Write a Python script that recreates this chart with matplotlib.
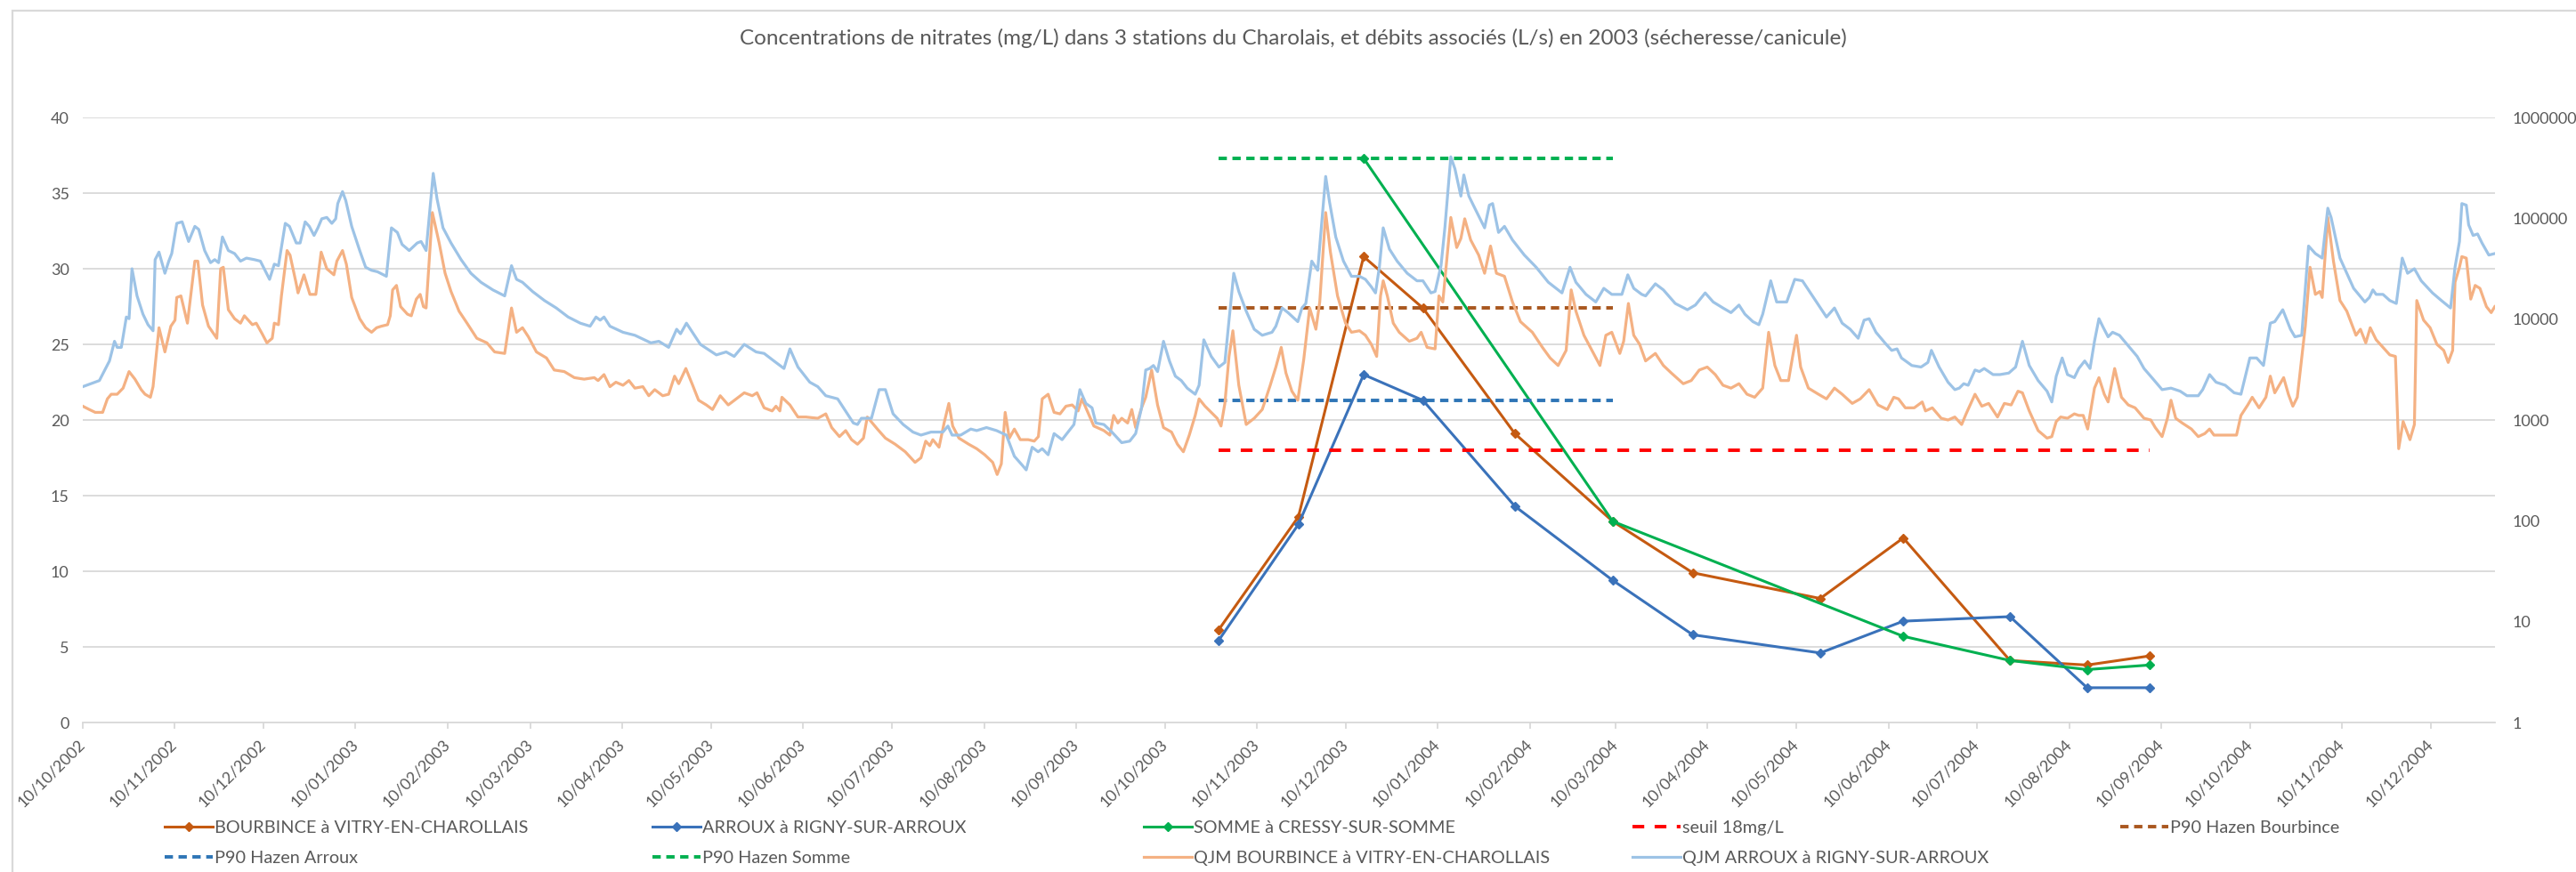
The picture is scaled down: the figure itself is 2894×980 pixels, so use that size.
import matplotlib
matplotlib.use("Agg")
import matplotlib.pyplot as plt
import matplotlib.dates as mdates
from matplotlib.patches import Rectangle
import pandas as pd

plt.rcParams['font.family'] = ['Lato', 'DejaVu Sans']

# ---------------------------
# Data
# ---------------------------
debut = pd.Timestamp("2002-10-10")
fin = pd.Timestamp("2004-12-31 14:00")

titre = ("Concentrations de nitrates (mg/L) dans 3 stations du Charolais, "
         "et débits associés (L/s) en 2003 (sécheresse/canicule)")

dates_prelev = ["2003-10-28", "2003-11-24", "2003-12-16", "2004-01-05", "2004-02-05", "2004-03-09",
                "2004-04-05", "2004-05-18", "2004-06-15", "2004-07-21", "2004-08-16", "2004-09-06"]
bourbince = [6.1, 13.6, 30.8, 27.4, 19.1, 13.3, 9.9, 8.2, 12.2, 4.1, 3.8, 4.4]
arroux = [5.4, 13.1, 23.0, 21.3, 14.3, 9.4, 5.8, 4.6, 6.7, 7.0, 2.3, 2.3]

dates_somme = ["2003-12-16", "2004-03-09", "2004-06-15", "2004-07-21", "2004-08-16", "2004-09-06"]
somme = [37.3, 13.3, 5.7, 4.1, 3.5, 3.8]

seuil = 18
p90_dates = ["2003-10-28", "2004-03-09"]
p90_bourbince = 27.4
p90_arroux = 21.3
p90_somme = 37.3

# QJM : (jours depuis le 10/10/2002, débit L/s)
qjm_arroux = [
    (0, 2140), (5.6, 2460), (9.0, 3850), (10.7, 6030), (11.6, 5250), (13.0, 5250), (14.7, 10500), (15.6, 10100),
    (16.6, 31600), (18.3, 17000), (20.3, 11200), (22.0, 8810), (23.7, 7670), (24.4, 38900), (25.7, 46200),
    (27.7, 28500), (29.0, 37600), (30.0, 44700), (31.7, 89100), (33.5, 92300), (35.7, 58900), (37.8, 83200),
    (39.1, 77600), (41.1, 47900), (43.1, 36300), (44.5, 38900), (45.8, 36300), (47.1, 65300), (49.1, 47900),
    (51.2, 44700), (53.2, 37600), (55.2, 40300), (57.9, 38900), (59.9, 37600), (63.0, 24800), (64.6, 35100),
    (66.0, 33900), (68.3, 89100), (69.7, 83200), (72.0, 56900), (73.3, 56900), (75.0, 92300), (76.4, 83200),
    (78.0, 67600), (79.3, 80400), (80.6, 98900), (82.3, 102000), (84.0, 89100), (85.3, 98900), (86.0, 140000),
    (87.6, 184000), (88.7, 150000), (90.7, 83200), (93.4, 47900), (95.4, 32700), (97.4, 30500), (99.4, 29500),
    (102.4, 26600), (104.1, 80400), (106.1, 72400), (107.7, 55000), (110.1, 47900), (112.8, 56900),
    (114.1, 58900), (115.8, 47900), (118.2, 279000), (119.5, 155000), (121.5, 80400), (124.2, 56900),
    (127.6, 38900), (130.9, 28500), (134.3, 23200), (138.3, 19500), (142.3, 17000), (144.6, 33900),
    (146.3, 24800), (148.3, 23200), (151.7, 18800), (155.7, 15300), (159.7, 12900), (163.7, 10500),
    (167.8, 9120), (171.1, 8510), (173.1, 10500), (174.5, 9770), (175.8, 10500), (177.8, 8510),
    (182.2, 7410), (186.2, 6920), (191.6, 5820), (194.3, 6030), (197.6, 5250), (200.3, 7940), (201.6, 7160),
    (203.6, 9120), (208.3, 5620), (213.7, 4420), (217.0, 4730), (219.7, 4270), (223.1, 5620), (227.1, 4730),
    (229.8, 4570), (233.1, 3850), (236.5, 3240), (238.5, 5070), (241.2, 3350), (245.2, 2370), (247.9, 2140),
    (250.6, 1740), (254.6, 1620), (259.9, 933), (261.3, 902), (262.6, 1040), (266.0, 1040), (268.6, 2000),
    (270.7, 2000), (273.3, 1150), (276.7, 902), (280.0, 759), (282.7, 708), (286.1, 759), (290.1, 759),
    (291.8, 871), (293.2, 708), (296.1, 708), (299.5, 813), (301.5, 785), (304.8, 841), (308.2, 785),
    (311.5, 708), (314.2, 437), (316.9, 355), (318.2, 320), (320.2, 537), (322.2, 484), (323.6, 519),
    (325.6, 452), (327.6, 733), (330.3, 638), (334.3, 902), (336.3, 2000), (338.3, 1460), (340.4, 1320),
    (341.7, 933), (344.4, 902), (347.1, 759), (350.4, 596), (353.1, 617), (355.1, 733), (357.1, 1320),
    (358.5, 3130), (359.8, 3240), (361.1, 3470), (362.5, 3020), (364.5, 6030), (366.5, 3850), (368.5, 2720),
    (370.5, 2460), (372.5, 2070), (375.2, 1800), (376.5, 2210), (378.1, 6240), (380.6, 4270), (383.2, 3350),
    (385.2, 3720), (386.6, 9770), (388.2, 28500), (389.9, 18800),
    (392.4, 12000), (395.1, 7940), (397.8, 6920), (401.1, 7410), (402.4, 8510), (404.5, 12900), (406.5, 11600),
    (409.8, 9440), (411.2, 12900), (412.5, 14300), (414.5, 37600), (416.5, 30500), (417.9, 92300),
    (419.2, 260000), (420.5, 145000), (422.6, 65300), (425.2, 37600), (427.9, 26600), (430.6, 26600),
    (432.6, 24800), (434.6, 20900), (436.0, 18200), (437.3, 32700), (438.6, 80400), (440.7, 49500),
    (443.3, 37600), (446.7, 28500), (450.0, 24000), (452.0, 24000), (454.7, 18200), (456.1, 18800),
    (458.1, 33900), (459.4, 80400), (461.4, 407000), (462.8, 309000), (464.8, 166000), (465.8, 269000),
    (467.5, 166000), (469.5, 126000), (472.8, 80400), (474.4, 135000), (475.5, 140000), (477.5, 72400),
    (479.5, 83200), (482.2, 61000), (486.2, 43200), (490.2, 32700), (494.3, 23200), (498.9, 18200),
    (501.6, 32700), (503.6, 23200), (507.0, 17600), (510.3, 14800), (513.0, 20200), (515.7, 17600),
    (519.1, 17600), (521.1, 27500), (523.1, 20200), (525.8, 17600), (527.1, 17000), (530.4, 22400),
    (533.1, 19500), (537.1, 14300), (541.2, 12400), (543.9, 13800), (547.2, 18200), (549.9, 14800),
    (553.2, 12900), (555.9, 11600), (558.6, 13800), (560.6, 11200), (563.3, 9440), (565.3, 8810),
    (566.6, 11200), (569.3, 24000), (571.3, 14800), (574.7, 14800), (577.4, 24800), (580.0, 24000),
    (582.7, 18200), (585.4, 13800), (588.1, 10500), (590.8, 12900), (593.4, 9120), (596.1, 7940),
    (598.8, 6460), (600.8, 9770),
    (602.5, 10100), (604.8, 7410), (607.8, 5820), (610.1, 4900), (611.9, 5070), (613.4, 4120), (616.9, 3470),
    (620.0, 3350), (622.3, 3720), (623.5, 4900), (626.1, 3350), (629.1, 2370), (631.4, 2000), (632.9, 2070),
    (634.4, 2290), (635.9, 2210), (638.2, 3130), (639.7, 3020), (641.3, 3240), (644.3, 2820), (646.6, 2820),
    (649.6, 2920), (651.9, 3350), (654.2, 6030), (656.5, 3470), (659.5, 2460), (662.5, 1930), (664.1, 1510),
    (665.6, 2720), (667.6, 4120), (669.4, 2820), (671.7, 2630), (673.2, 3240), (675.2, 3850), (677.0, 3240),
    (678.5, 6030), (680.0, 10100), (681.5, 8220), (683.1, 6680), (684.6, 7410), (686.9, 6920), (689.9, 5430),
    (692.9, 4270), (695.2, 3240), (698.3, 2540), (701.3, 2000), (704.3, 2070), (707.4, 1930), (709.7, 1740),
    (713.5, 1740), (715.0, 2000), (717.3, 2820), (719.5, 2370), (722.6, 2210), (725.6, 1860), (727.9, 1800),
    (730.9, 4120), (733.2, 4120), (735.5, 3470), (737.8, 9120), (739.3, 9440), (742.0, 12400), (744.6, 7940),
    (746.1, 6680), (748.4, 6920), (750.7, 53100), (753.0, 44700), (755.3, 40300), (757.2, 126000),
    (758.3, 102000), (761.3, 40300), (765.9, 20200), (769.7, 14800), (771.2, 16400), (772.4, 19500),
    (773.5, 17600), (775.8, 17600), (778.1, 15300), (780.3, 14300), (782.3, 40300), (784.1, 28500),
    (786.4, 31600), (788.7, 24000), (792.5, 18200), (795.5, 15300), (798.6, 12900), (800.1, 32700),
    (801.6, 58900), (802.4, 140000), (803.9, 135000), (804.7, 86100), (806.2, 67600), (807.7, 70000),
    (809.2, 56900), (811.5, 43200), (813.5, 44700),
]

qjm_bourbince = [
    (0, 1370), (2.2, 1270), (4.2, 1190), (6.7, 1190), (8.3, 1620), (9.6, 1800), (11.6, 1800), (13.6, 2070),
    (15.6, 3020), (17.6, 2540), (19.7, 2000), (21.0, 1800), (22.8, 1680), (23.7, 2140), (25.7, 8220),
    (27.7, 4730), (29.7, 8510), (31.1, 9770), (31.7, 16400), (33.1, 17000), (35.3, 9120), (37.8, 37600),
    (38.8, 37600), (40.4, 13800), (42.4, 8510), (45.2, 6460), (46.5, 31600), (47.4, 32700), (49.1, 12400),
    (51.2, 10100), (53.2, 9120), (54.5, 10800), (57.2, 8810), (58.5, 9120), (60.5, 7160), (62.1, 5820),
    (63.9, 6460), (64.6, 9120), (66.0, 8810), (67.0, 17000), (68.9, 47900), (69.9, 43200), (72.0, 22400),
    (72.6, 18200), (74.6, 27500), (76.6, 17600), (78.6, 17600), (80.4, 46200), (82.3, 31600), (84.7, 27500),
    (85.7, 37600), (87.6, 47900), (88.9, 35100), (90.7, 16400), (93.4, 10100), (95.4, 8220), (97.4, 7410),
    (99.1, 8220), (100.7, 8510), (102.8, 8810), (103.7, 10800), (104.5, 19500), (105.8, 21600),
    (107.2, 13300), (109.5, 11200), (110.8, 10800), (112.5, 15800), (113.8, 17600), (114.9, 13300),
    (115.8, 12900), (117.9, 114000), (120.2, 56900), (122.2, 28500), (124.2, 18800), (126.9, 12000),
    (129.6, 9120), (132.9, 6460), (136.3, 5820), (138.9, 4730), (142.3, 4570), (144.6, 12900), (146.3, 7410),
    (148.3, 8220), (150.3, 6680), (153.0, 4730), (156.4, 4120), (159.0, 3130), (162.4, 3020), (165.8, 2630),
    (169.1, 2540), (172.5, 2630), (173.8, 2460), (175.8, 2820), (177.8, 2140), (179.8, 2370),
    (182.2, 2210), (184.2, 2460), (186.2, 2070), (188.9, 2140), (190.9, 1740), (192.9, 2000), (195.6, 1740),
    (197.6, 1800), (199.6, 2720), (201.0, 2290), (203.4, 3240), (205.7, 2210), (207.7, 1570), (210.3, 1410),
    (212.4, 1270), (215.0, 1740), (217.7, 1410), (220.4, 1620), (223.1, 1860), (225.8, 1740), (227.4, 1860),
    (229.8, 1320), (232.5, 1230), (233.8, 1370), (235.1, 1230), (235.8, 1680), (238.5, 1410), (241.2, 1070),
    (243.9, 1070), (247.9, 1040), (250.6, 1150), (252.6, 841), (255.2, 684), (257.3, 785), (259.3, 638),
    (261.3, 575), (263.3, 661), (264.6, 1070), (268.0, 813), (270.7, 661), (274.0, 575), (277.4, 484),
    (280.7, 380), (282.7, 422), (284.3, 617), (285.7, 556), (286.7, 638), (288.8, 537), (290.5, 933),
    (292.1, 1460), (293.4, 871), (295.5, 661), (298.8, 575), (301.5, 519), (304.2, 452), (306.9, 380),
    (308.4, 288), (309.8, 367), (311.1, 1190), (312.5, 661), (314.2, 813), (316.2, 638), (318.9, 638),
    (320.9, 617), (322.3, 684), (323.6, 1620), (325.6, 1800), (327.6, 1190), (329.6, 1150), (331.6, 1370),
    (333.7, 1410), (335.7, 1230), (337.0, 1620), (339.0, 1190), (341.0, 871), (344.4, 785), (346.4, 708),
    (347.7, 1110), (349.1, 933), (350.4, 1040), (352.4, 933), (353.8, 1270), (355.1, 841), (357.1, 1320),
    (358.5, 1680), (360.5, 3130), (362.5, 1410), (364.5, 841), (367.2, 759), (369.2, 575), (371.2, 484),
    (373.2, 708), (375.2, 1110), (376.5, 1620), (378.5, 1370), (380.6, 1190), (382.6, 1040), (383.9, 871),
    (385.2, 1460), (386.6, 4270), (387.9, 7670), (389.9, 2210),
    (392.4, 902), (395.1, 1040), (397.8, 1270), (400.5, 2210), (402.4, 3350), (404.2, 5250), (405.8, 2920),
    (407.8, 1930), (409.8, 1570), (411.8, 3980), (413.8, 12900), (415.9, 7940), (417.2, 14800),
    (419.2, 114000), (420.8, 46200), (423.2, 17000), (425.9, 9120), (427.9, 7410), (430.6, 7670),
    (432.6, 6920), (434.6, 5620), (436.4, 4270), (437.7, 17000), (438.6, 24000), (440.0, 17000),
    (442.0, 9120), (444.0, 7410), (447.4, 6030), (450.0, 6460), (451.4, 7410), (453.4, 5250), (456.1, 5070),
    (457.4, 17000), (458.7, 14800), (461.4, 102000), (463.4, 51300), (464.8, 63100), (466.1, 98900),
    (468.1, 61000), (470.8, 43200), (472.8, 28500), (474.8, 53100), (476.8, 28500), (479.5, 26600),
    (482.2, 14800), (484.9, 9440), (488.9, 7410), (492.3, 5250), (494.9, 4120), (497.6, 3470), (500.3, 4900),
    (502.0, 19500), (503.6, 12000), (506.3, 6920), (509.0, 4900), (511.7, 3470), (513.7, 6920), (515.7, 7410),
    (518.4, 4570), (519.7, 6030), (521.3, 14300), (523.1, 6920), (525.1, 5620), (527.1, 3850), (530.4, 4570),
    (533.1, 3470), (535.8, 2920), (539.8, 2290), (542.5, 2460), (545.2, 3130), (547.9, 3350), (550.6, 2820),
    (553.2, 2210), (555.9, 2070), (558.6, 2290), (561.3, 1800), (563.9, 1680), (566.6, 2070), (568.6, 7410),
    (570.7, 3470), (572.7, 2460), (575.3, 2460), (576.7, 4270), (578.0, 6920), (579.4, 3350), (582.0, 2070),
    (585.4, 1800), (588.1, 1620), (590.8, 2070), (593.4, 1800), (596.8, 1460), (599.5, 1620),
    (602.5, 2000), (605.5, 1410), (608.6, 1270), (610.8, 1680), (612.4, 1620), (614.7, 1320), (617.7, 1320),
    (620.4, 1510), (621.5, 1230), (623.8, 1320), (626.8, 1040), (629.1, 1000), (631.4, 1070), (633.7, 902),
    (635.2, 1150), (638.2, 1800), (640.5, 1370), (642.8, 1460), (645.8, 1070), (648.1, 1460), (650.4, 1410),
    (652.7, 1930), (654.2, 1860), (656.5, 1230), (659.5, 785), (662.5, 661), (664.1, 684), (665.6, 966),
    (667.1, 1070), (669.4, 1040), (671.7, 1150), (673.2, 1110), (674.7, 1110), (676.2, 813), (678.5, 2070),
    (680.0, 2630), (681.8, 1800), (683.1, 1510), (685.3, 3240), (687.6, 1680), (689.9, 1410), (692.2, 1320),
    (695.2, 1040), (697.5, 1000), (699.0, 841), (701.3, 684), (703.1, 1040), (704.3, 1570), (705.9, 1040),
    (708.1, 933), (711.2, 813), (713.5, 684), (715.7, 733), (717.3, 813), (718.8, 708), (722.6, 708),
    (726.4, 708), (727.9, 1110), (730.2, 1410), (731.7, 1680), (734.0, 1320), (736.3, 1680), (737.8, 2720),
    (739.3, 1860), (740.8, 2210), (742.3, 2630), (743.9, 1800), (745.4, 1370), (746.9, 1680), (748.1, 3470),
    (749.6, 8510), (751.2, 32700), (753.0, 17600), (754.5, 18800), (755.3, 16400), (757.2, 102000),
    (759.1, 37600), (761.3, 15300), (763.6, 12000), (766.7, 6920), (768.2, 7940), (770.0, 5820),
    (771.5, 8220), (773.5, 6240), (775.8, 5250), (778.1, 4420), (780.0, 4270), (781.1, 519), (782.6, 966),
    (784.9, 638), (786.4, 902), (787.2, 15300), (789.5, 9770), (791.7, 8220), (794.0, 5620), (796.3, 4900),
    (797.8, 3720), (799.3, 4900), (800.1, 23200), (801.6, 32700), (802.4, 41700), (803.9, 40300),
    (805.4, 15800), (806.9, 21600), (808.5, 20200), (810.7, 13300), (812.3, 11600), (813.5, 13300),
]

debit_ticks = [1, 10, 100, 1000, 10000, 100000, 1000000]
debit_labels = ["1", "10", "100", "1000", "10000", "100000", "1000000"]


def to_dates(pairs):
    jours, q = zip(*pairs)
    return debut + pd.to_timedelta(list(jours), unit="D"), list(q)


# ---------------------------
# Figure
# ---------------------------
gris = "#595959"
grille = "#D9D9D9"

fig = plt.figure(figsize=(28.94, 9.8), dpi=100)
fig.patches.append(Rectangle((14 / 2894, -0.5), 2.0, 0.5 + 1 - 12 / 980, transform=fig.transFigure,
                             fill=False, edgecolor=grille, lw=1.6))
ax = fig.add_axes([93 / 2894, 1 - 812 / 980, (2803 - 93) / 2894, 680 / 980])
ax2 = ax.twinx()

x_prel = pd.to_datetime(dates_prelev)
x_somme = pd.to_datetime(dates_somme)
x_p90 = pd.to_datetime(p90_dates)
x_seuil = pd.to_datetime([dates_prelev[0], dates_prelev[-1]])

l_bou, = ax.plot(x_prel, bourbince, color="#C55A11", lw=2.2, marker="D", ms=5.5,
                 label="BOURBINCE à VITRY-EN-CHAROLLAIS")
l_arr, = ax.plot(x_prel, arroux, color="#3A72BA", lw=2.2, marker="D", ms=5.5,
                 label="ARROUX à RIGNY-SUR-ARROUX")
l_som, = ax.plot(x_somme, somme, color="#00B050", lw=2.2, marker="D", ms=5.5,
                 label="SOMME à CRESSY-SUR-SOMME")
l_seuil, = ax.plot(x_seuil, [seuil, seuil], color="#FF0000", lw=2.8, dashes=(3.4, 3.0),
                   label="seuil 18mg/L")
l_p90b, = ax.plot(x_p90, [p90_bourbince] * 2, color="#A9571F", lw=2.8, dashes=(2.4, 1.6),
                  label="P90 Hazen Bourbince")
l_p90a, = ax.plot(x_p90, [p90_arroux] * 2, color="#2E75B6", lw=2.8, dashes=(2.4, 1.6),
                  label="P90 Hazen Arroux")
l_p90s, = ax.plot(x_p90, [p90_somme] * 2, color="#00B050", lw=2.8, dashes=(2.4, 1.6),
                  label="P90 Hazen Somme")

xb, qb = to_dates(qjm_bourbince)
xa, qa = to_dates(qjm_arroux)
l_qb, = ax2.plot(xb, qb, color="#F4B183", lw=2.3, label="QJM BOURBINCE à VITRY-EN-CHAROLLAIS")
l_qa, = ax2.plot(xa, qa, color="#9DC3E6", lw=2.3, label="QJM ARROUX à RIGNY-SUR-ARROUX")

# axes
ax.set_xlim(debut, fin)
ax.set_ylim(0, 40)
ax.set_yticks(range(0, 41, 5))
ax.grid(axis="y", color=grille, lw=1.3)
ax.set_axisbelow(True)
for s in ["top", "left", "right"]:
    ax.spines[s].set_visible(False)
    ax2.spines[s].set_visible(False)
ax.spines["bottom"].set_color(grille)
ax.spines["bottom"].set_linewidth(1.3)
ax2.spines["bottom"].set_visible(False)

ax.xaxis.set_major_locator(mdates.MonthLocator(bymonthday=10))
ax.xaxis.set_major_formatter(mdates.DateFormatter("%d/%m/%Y"))
ax.tick_params(axis="x", colors=grille, length=5, width=1.3, pad=11, labelcolor=gris, labelsize=13)
ax.tick_params(axis="y", length=0, pad=11, labelcolor=gris, labelsize=13)
plt.setp(ax.get_xticklabels(), rotation=45, ha="right", va="center", rotation_mode="anchor")

ax2.set_yscale("log")
ax2.set_ylim(1, 1000000)
ax2.set_yticks(debit_ticks)
ax2.set_yticklabels(debit_labels)
ax2.minorticks_off()
ax2.tick_params(axis="y", length=0, pad=14, labelcolor=gris, labelsize=13)

fig.text(0.502, 1 - 43 / 980, titre, ha="center", va="center", fontsize=17.5, color=gris)

# legend in 5 columns, 2 rows (row-major like Excel)
colonnes = [[l_bou, l_p90a], [l_arr, l_p90s], [l_som, l_qb], [l_seuil, l_qa], [l_p90b]]
x_cols = [185, 733, 1285, 1834, 2382]
for hs, xc in zip(colonnes, x_cols):
    fig.legend(handles=hs, labels=[h.get_label() for h in hs], loc="upper left",
               bbox_to_anchor=(xc / 2894, 1 - 922 / 980), frameon=False, fontsize=14.3,
               labelcolor=gris, handlelength=2.7, handletextpad=0.1, borderpad=0,
               borderaxespad=0, labelspacing=0.85)

fig.savefig("out.png", dpi=100)
